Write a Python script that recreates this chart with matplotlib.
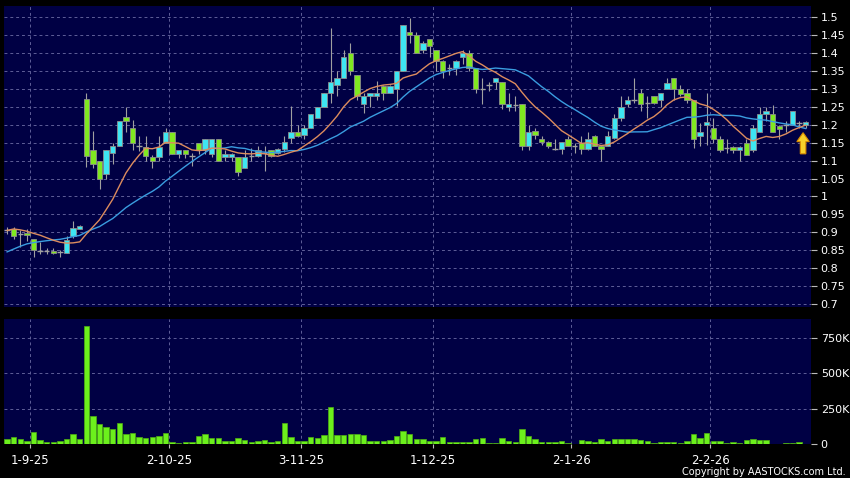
import numpy as np
import matplotlib
matplotlib.use("Agg")
import matplotlib.pyplot as plt
from matplotlib.patches import Polygon

# ---------------- data ----------------
opens = [0.905, 0.91, 0.895, 0.898, 0.881, 0.848, 0.848, 0.848, 0.845, 0.841,
         0.89, 0.91, 1.272, 1.131, 1.10, 1.063, 1.12, 1.14, 1.221, 1.19,
         1.14, 1.137, 1.109, 1.11, 1.15, 1.18, 1.119, 1.129, 1.113, 1.15,
         1.129, 1.119, 1.16, 1.11, 1.11, 1.109, 1.08, 1.112, 1.112, 1.12,
         1.129, 1.121, 1.132, 1.162, 1.18, 1.171, 1.19, 1.22, 1.251, 1.29,
         1.31, 1.331, 1.40, 1.34, 1.259, 1.28, 1.28, 1.308, 1.29, 1.30,
         1.35, 1.459, 1.45, 1.41, 1.44, 1.408, 1.378, 1.36, 1.36, 1.39,
         1.40, 1.36, 1.30, 1.31, 1.32, 1.32, 1.25, 1.255, 1.257, 1.142,
         1.182, 1.16, 1.151, 1.132, 1.132, 1.16, 1.14, 1.15, 1.132, 1.17,
         1.14, 1.142, 1.162, 1.219, 1.258, 1.27, 1.289, 1.26, 1.28, 1.27,
         1.30, 1.33, 1.30, 1.29, 1.27, 1.17, 1.20, 1.19, 1.16, 1.135,
         1.138, 1.13, 1.15, 1.13, 1.18, 1.229, 1.229, 1.198, 1.20, 1.20,
         1.205, 1.20]
highs = [0.915, 0.915, 0.905, 0.91, 0.881, 0.872, 0.855, 0.855, 0.85, 0.89,
         0.932, 0.92, 1.29, 1.184, 1.10, 1.13, 1.15, 1.21, 1.25, 1.213,
         1.168, 1.168, 1.117, 1.168, 1.19, 1.18, 1.13, 1.13, 1.12, 1.15,
         1.16, 1.16, 1.16, 1.13, 1.12, 1.11, 1.13, 1.135, 1.14, 1.14,
         1.13, 1.135, 1.17, 1.253, 1.20, 1.20, 1.231, 1.251, 1.29, 1.47,
         1.35, 1.41, 1.43, 1.34, 1.29, 1.29, 1.322, 1.31, 1.31, 1.35,
         1.48, 1.498, 1.46, 1.434, 1.44, 1.41, 1.38, 1.37, 1.38, 1.41,
         1.41, 1.36, 1.33, 1.32, 1.33, 1.32, 1.29, 1.28, 1.257, 1.20,
         1.19, 1.17, 1.155, 1.16, 1.151, 1.17, 1.15, 1.17, 1.18, 1.172,
         1.145, 1.183, 1.23, 1.28, 1.28, 1.33, 1.30, 1.28, 1.28, 1.29,
         1.33, 1.33, 1.31, 1.30, 1.27, 1.205, 1.29, 1.22, 1.17, 1.16,
         1.14, 1.14, 1.16, 1.20, 1.25, 1.25, 1.256, 1.20, 1.21, 1.238,
         1.21, 1.21]
lows = [0.895, 0.88, 0.86, 0.876, 0.83, 0.84, 0.84, 0.84, 0.83, 0.841,
        0.885, 0.91, 1.081, 1.08, 1.02, 1.05, 1.09, 1.14, 1.18, 1.13,
        1.126, 1.10, 1.08, 1.10, 1.15, 1.119, 1.108, 1.108, 1.085, 1.119,
        1.119, 1.11, 1.099, 1.098, 1.10, 1.058, 1.08, 1.10, 1.11, 1.07,
        1.109, 1.118, 1.125, 1.15, 1.165, 1.16, 1.19, 1.22, 1.251, 1.262,
        1.28, 1.331, 1.34, 1.27, 1.232, 1.25, 1.27, 1.27, 1.29, 1.253,
        1.35, 1.43, 1.40, 1.40, 1.39, 1.35, 1.33, 1.34, 1.34, 1.37,
        1.35, 1.29, 1.257, 1.295, 1.30, 1.245, 1.24, 1.24, 1.13, 1.13,
        1.16, 1.145, 1.135, 1.13, 1.118, 1.14, 1.12, 1.118, 1.13, 1.14,
        1.10, 1.14, 1.16, 1.21, 1.25, 1.26, 1.24, 1.22, 1.257, 1.25,
        1.30, 1.27, 1.28, 1.26, 1.135, 1.14, 1.145, 1.15, 1.125, 1.12,
        1.12, 1.10, 1.117, 1.125, 1.18, 1.21, 1.18, 1.16, 1.18, 1.20,
        1.19, 1.19]
closes = [0.905, 0.89, 0.895, 0.892, 0.851, 0.848, 0.848, 0.842, 0.845, 0.879,
          0.912, 0.918, 1.114, 1.09, 1.05, 1.13, 1.14, 1.21, 1.21, 1.15,
          1.14, 1.112, 1.10, 1.137, 1.18, 1.119, 1.129, 1.119, 1.113, 1.129,
          1.16, 1.16, 1.099, 1.119, 1.119, 1.068, 1.109, 1.112, 1.129, 1.12,
          1.114, 1.132, 1.151, 1.181, 1.17, 1.19, 1.231, 1.251, 1.29, 1.32,
          1.331, 1.39, 1.35, 1.28, 1.28, 1.29, 1.29, 1.29, 1.308, 1.35,
          1.48, 1.45, 1.40, 1.429, 1.42, 1.378, 1.35, 1.36, 1.378, 1.40,
          1.36, 1.30, 1.30, 1.31, 1.33, 1.257, 1.257, 1.255, 1.142, 1.18,
          1.171, 1.151, 1.14, 1.132, 1.151, 1.142, 1.14, 1.132, 1.16, 1.142,
          1.132, 1.17, 1.22, 1.25, 1.268, 1.27, 1.259, 1.26, 1.26, 1.289,
          1.318, 1.30, 1.287, 1.27, 1.16, 1.18, 1.209, 1.16, 1.13, 1.135,
          1.13, 1.138, 1.117, 1.19, 1.229, 1.238, 1.18, 1.188, 1.20, 1.238,
          1.205, 1.208]
volumes_k = [35, 52, 35, 24, 85, 28, 14, 14, 21, 38,
             71, 33, 835, 198, 142, 118, 106, 149, 73, 75,
             47, 45, 52, 57, 75, 17, 5, 12, 14, 59,
             71, 45, 45, 24, 19, 45, 28, 17, 24, 28,
             17, 21, 146, 47, 24, 19, 50, 45, 61, 260,
             64, 61, 71, 68, 64, 21, 21, 21, 31, 57,
             92, 73, 38, 35, 24, 19, 52, 12, 12, 12,
             14, 33, 45, 7, 7, 40, 24, 14, 109, 57,
             35, 12, 12, 17, 19, 7, 2, 28, 21, 17,
             35, 24, 35, 33, 33, 35, 31, 19, 7, 12,
             14, 12, 9, 21, 71, 42, 78, 21, 19, 7,
             17, 9, 26, 38, 31, 26, 2, 2, 5, 5,
             17, 0]
# closes before the visible window (estimated from where the averages start)
prior_closes = [0.73, 0.74, 0.76, 0.78, 0.79, 0.80, 0.80, 0.81, 0.81, 0.83,
                0.85, 0.92, 0.93, 0.91, 0.90, 0.92, 0.91, 0.90, 0.905]

date_labels = ["1-9-25", "2-10-25", "3-11-25", "1-12-25", "2-1-26", "2-2-26"]
date_pos = [3.5, 24.5, 44.5, 64.5, 85.5, 106.5]
price_ticks = [0.7, 0.75, 0.8, 0.85, 0.9, 0.95, 1.0, 1.05, 1.1, 1.15,
               1.2, 1.25, 1.3, 1.35, 1.4, 1.45, 1.5]
price_tick_labels = ["0.7", "0.75", "0.8", "0.85", "0.9", "0.95", "1", "1.05",
                     "1.1", "1.15", "1.2", "1.25", "1.3", "1.35", "1.4", "1.45", "1.5"]
vol_ticks = [0, 250000, 500000, 750000]
vol_tick_labels = ["0", "250K", "500K", "750K"]

# ---------------- style ----------------
BG = "#000044"
GRID = "#5e5e98"
UP = "#3ee6f2"
DOWN = "#80e820"
VOLC = "#6cf01c"
WICK = "#a0a0a0"
EDGE = "#8c8c8c"
MA_S = "#dd8c5e"
MA_L = "#3a9de0"

o = np.array(opens); h = np.array(highs); l = np.array(lows); c = np.array(closes)
v = np.array(volumes_k) * 1000.0
x = np.arange(len(c))

allc = np.concatenate([prior_closes, c])
n_prior = len(prior_closes)
ma10 = np.array([allc[n_prior + i - 9:n_prior + i + 1].mean() for i in x])
ma20 = np.array([allc[n_prior + i - 19:n_prior + i + 1].mean() for i in x])

W, H = 850, 478
fig = plt.figure(figsize=(W / 100, H / 100), dpi=100, facecolor="black")
ax1 = fig.add_axes([4 / W, 1 - 307 / H, 807 / W, 301 / H])
ax2 = fig.add_axes([4 / W, 1 - 444 / H, 807 / W, 125 / H], sharex=ax1)

for ax in (ax1, ax2):
    ax.set_facecolor(BG)
    for s in ax.spines.values():
        s.set_visible(False)
    ax.yaxis.tick_right()
    ax.tick_params(axis="y", which="both", colors="#bbbbbb", labelcolor="white",
                   length=4, width=0.8, pad=3, labelsize=8)
    for dp in date_pos:
        ax.axvline(dp, color=GRID, lw=0.7, ls=(0, (3, 3)), zorder=0.5)

# price panel
ax1.set_ylim(0.691, 1.532)
ax1.set_xlim(-0.47, 121.8)
ax1.set_yticks(price_ticks)
ax1.set_yticklabels(price_tick_labels)
for p in price_ticks:
    ax1.axhline(p, color=GRID, lw=0.7, ls=(0, (3, 3)), zorder=0.5)
ax1.tick_params(axis="x", which="both", bottom=False, labelbottom=False)

ax1.vlines(x, l, h, color=WICK, lw=0.8, zorder=2)
up = c > o
dn = c < o
eq = c == o
ax1.bar(x[up], (c - o)[up], bottom=o[up], width=0.84, color=UP,
        edgecolor=EDGE, linewidth=0.6, zorder=3)
ax1.bar(x[dn], (o - c)[dn], bottom=c[dn], width=0.84, color=DOWN,
        edgecolor=EDGE, linewidth=0.6, zorder=3)
ax1.hlines(c[eq], x[eq] - 0.42, x[eq] + 0.42, color=WICK, lw=1.0, zorder=3)

ax1.plot(x, ma20, color=MA_L, lw=1.0, zorder=4)
ax1.plot(x, ma10, color=MA_S, lw=1.0, zorder=4)

# yellow arrow marker
ax_c = 120.6
arrow = Polygon([(ax_c - 0.42, 1.119), (ax_c + 0.42, 1.119), (ax_c + 0.42, 1.153),
                 (ax_c + 0.95, 1.153), (ax_c, 1.178), (ax_c - 0.95, 1.153),
                 (ax_c - 0.42, 1.153)], closed=True, facecolor="#f6cf2a",
                edgecolor="#d98a00", linewidth=0.8, zorder=6)
ax1.add_patch(arrow)

# volume panel
ax2.set_ylim(0, 882000)
ax2.set_yticks(vol_ticks)
ax2.set_yticklabels(vol_tick_labels)
for t in vol_ticks[1:]:
    ax2.axhline(t, color=GRID, lw=0.7, ls=(0, (3, 3)), zorder=0.5)
ax2.bar(x, v, width=0.84, color=VOLC, edgecolor="#4fb012", linewidth=0.5, zorder=3)
ax2.set_xticks(date_pos)
ax2.set_xticklabels(date_labels)
ax2.tick_params(axis="x", colors="#bbbbbb", labelcolor="white", length=3,
                width=0.8, pad=4, labelsize=8.5)

fig.text(846 / W, 1 - 472 / H, "Copyright by AASTOCKS.com Ltd.", color="white",
         fontsize=7, ha="right", va="center")

fig.savefig("out.png", dpi=100, facecolor="black")
